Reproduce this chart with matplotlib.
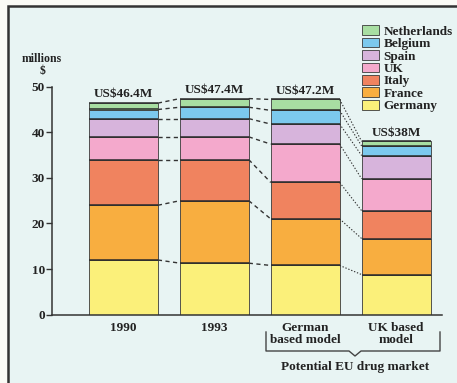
import numpy as np
import matplotlib
matplotlib.use("Agg")
import matplotlib.pyplot as plt
from matplotlib.patches import Rectangle

# market size by country, millions of US$
groups = ["1990", "1993", "German\nbased model", "UK based\nmodel"]
countries = ["Germany", "France", "Italy", "UK", "Spain", "Belgium", "Netherlands"]
germany = [12.0, 11.3, 10.8, 8.8]
france = [12.0, 13.7, 10.2, 7.9]
italy = [10.0, 9.0, 8.0, 6.1]
uk = [5.0, 5.0, 8.4, 7.0]
spain = [4.0, 4.0, 4.4, 5.1]
belgium = [2.0, 2.5, 3.0, 2.1]
netherlands = [1.4, 1.9, 2.4, 1.0]
totals = ["US$46.4M", "US$47.4M", "US$47.2M", "US$38M"]
yticks = [0, 10, 20, 30, 40, 50]

colors = ["#fbf07a", "#f8ae40", "#f0835f", "#f4a9cc", "#d7b4dc", "#7cc9ee", "#a8dea2"]
bg = "#e8f4f3"
edge = "#3a3a3a"

W, H = 457, 383
fig = plt.figure(figsize=(W / 100, H / 100), dpi=100)
fig.patch.set_facecolor("#fbfbf6")

# background panel with the frame on top/left
over = fig.add_axes([0, 0, 1, 1], zorder=0)
over.set_xlim(0, W)
over.set_ylim(H, 0)
over.axis("off")
over.add_patch(Rectangle((8, 6), W, H, facecolor=bg, edgecolor="#333333", lw=1.8))

ax = fig.add_axes([52 / W, (H - 314.7) / H, (442 - 52) / W, 228 / H], zorder=1)
ax.patch.set_alpha(0)
serif = "Liberation Serif"

x = np.arange(len(groups))
w = 0.758
series = [germany, france, italy, uk, spain, belgium, netherlands]
bottom = np.zeros(len(groups))
tops = []
for vals, c, name in zip(series, colors, countries):
    vals = np.array(vals)
    ax.bar(x, vals, w, bottom=bottom, color=c, edgecolor=edge, linewidth=0.6, label=name)
    bottom = bottom + vals
    tops.append(bottom.copy())
    # darker divider line at each segment top
    for xi, t in zip(x, bottom):
        ax.plot([xi - w / 2, xi + w / 2], [t, t], color="#2a2a2a", lw=1.1, solid_capstyle="butt")

# connectors between bars
for t in tops:
    for i in range(len(groups) - 1):
        style = (0, (3, 2.5)) if i < 2 else (0, (1.2, 1.6))
        lw = 1.0 if i < 2 else 0.8
        ax.plot([x[i] + w / 2, x[i + 1] - w / 2], [t[i], t[i + 1]],
                color="#333333", lw=lw, linestyle=style)

for xi, t, s in zip(x, bottom, totals):
    ax.text(xi, t + 0.6, s, ha="center", va="bottom", fontsize=9.5,
            fontweight="bold", family=serif, color="#222222", clip_on=False)

ax.set_xlim(-0.786, 3.505)
ax.set_ylim(0, 50)
ax.set_yticks(yticks)
ax.set_yticklabels([str(v) for v in yticks], fontsize=9.5, fontweight="bold",
                   family=serif, color="#222222")
ax.set_xticks(x)
ax.set_xticklabels(groups, fontsize=9.5, fontweight="bold", family=serif,
                   color="#222222", linespacing=1.0)
ax.tick_params(axis="x", length=0, pad=5)
ax.tick_params(axis="y", length=4, width=1, pad=1, color="#333333")
for s in ["top", "right"]:
    ax.spines[s].set_visible(False)
for s in ["left", "bottom"]:
    ax.spines[s].set_color("#333333")
    ax.spines[s].set_linewidth(1.1)

over.text(42, 59, "millions", ha="center", va="center", fontsize=8.5,
          fontweight="bold", family=serif, color="#222222")
over.text(42, 71, "$", ha="center", va="center", fontsize=8.5,
          fontweight="bold", family=serif, color="#222222")

# legend, top entry first
handles, labels = ax.get_legend_handles_labels()
leg = fig.legend(handles[::-1], labels[::-1], loc="upper left",
                 bbox_to_anchor=(357 / W, 1 - 20 / H), frameon=False,
                 prop={"family": serif, "weight": "bold", "size": 9.5},
                 handlelength=1.25, handleheight=0.75, handletextpad=0.35,
                 labelspacing=0.0, borderaxespad=0)
for t in leg.get_texts():
    t.set_color("#222222")

# bracket under the two model bars
bx0, bx1, by0, by1 = 266, 440, 332, 351
mid = 355
over.plot([bx0, bx0, mid - 6, mid, mid + 6, bx1, bx1],
          [by0, by1, by1, by1 + 5, by1, by1, by0], color="#444444", lw=1.0)
over.text(mid, 367, "Potential EU drug market", ha="center", va="center",
          fontsize=9.5, fontweight="bold", family=serif, color="#222222")

fig.savefig("out.png", dpi=100, facecolor=fig.get_facecolor())
